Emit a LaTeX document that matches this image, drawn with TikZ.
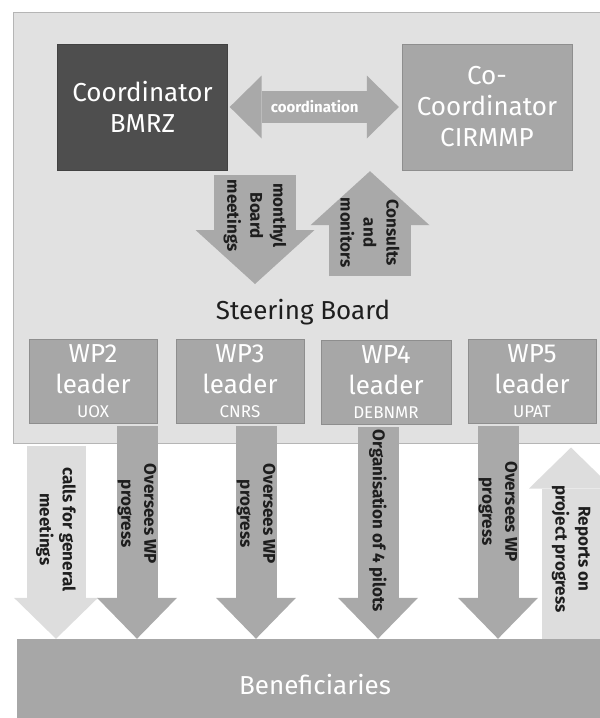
\documentclass[tikz,border=0pt]{standalone}
\usepackage{fontspec}
\setmainfont{Fira Sans}
\usetikzlibrary{arrows.meta}
\definecolor{panelgray}{HTML}{E1E1E1}
\definecolor{paneledge}{HTML}{B5B5B5}
\definecolor{coorddark}{HTML}{4E4E4E}
\definecolor{boxgray}{HTML}{A7A7A7}
\definecolor{arrowgray}{HTML}{A9A9A9}
\definecolor{lightarrow}{HTML}{DDDDDD}
\definecolor{labelblack}{HTML}{1E1E1E}

\begin{document}
\begin{tikzpicture}[x=1pt, y=-1pt,
  panel/.style={draw=paneledge, fill=panelgray, line width=1pt, minimum width=597pt, minimum height=431pt, inner sep=0pt},
  block/.style={fill=#1, draw=#1!85!black, minimum width=170pt, minimum height=126pt, inner sep=0pt,
                text=white, align=center, font=\fontsize{26}{31}\selectfont},
  wpbox/.style={fill=boxgray, draw=boxgray!85!black, minimum width=128pt, minimum height=84pt, inner sep=0pt,
                text=white, align=center, font=\fontsize{26}{31}\selectfont},
  fat/.style args={#1/#2/#3}{draw=arrowgray, line width=#1pt, -{Triangle[length=#2pt, width=#3pt, line width=0pt]}},
  fatboth/.style args={#1/#2/#3}{draw=arrowgray, line width=#1pt,
                {Triangle[length=#2pt, width=#3pt, line width=0pt]}-{Triangle[length=#2pt, width=#3pt, line width=0pt]}},
  lbl/.style={rotate=-90, align=center, text=labelblack, inner sep=0pt, font=\bfseries\fontsize{17}{23}\selectfont},
]
\useasboundingbox (0,0) rectangle (600,718);
\clip (0,0) rectangle (600,718);

\node[panel] (board) at (311.5,227.5) {};
\node[block=coorddark] (coord) at (142.5,107) {Coordinator\\BMRZ};
\node[block=boxgray] (cocoord) at (487,107) {Co-\\Coordinator\\CIRMMP};
\node[text=labelblack, font=\fontsize{26}{31}\selectfont] (steer) at (303,312) {Steering Board};

\node[wpbox] (wp2) at (93,381) {WP2\\leader\\[-7pt]{\fontsize{17}{20}\selectfont UOX}};
\node[wpbox] (wp3) at (240,381) {WP3\\leader\\[-7pt]{\fontsize{17}{20}\selectfont CNRS}};
\node[wpbox, minimum width=130pt] (wp4) at (386,382) {WP4\\leader\\[-7pt]{\fontsize{17}{20}\selectfont DEBNMR}};
\node[wpbox] (wp5) at (532,381) {WP5\\leader\\[-7pt]{\fontsize{17}{20}\selectfont UPAT}};

\node[fill=boxgray, minimum width=596pt, minimum height=91pt, text=white, font=\fontsize{26}{31}\selectfont] (ben) at (315,684.5) {Beneficiaries};

\coordinate (mcol) at (255,0);
\coordinate (ccol) at (370,0);
\coordinate (mtip) at (255,284);
\coordinate (cfoot) at (370,276);
\coordinate (col1) at (56,0);
\coordinate (col2) at (137,0);
\coordinate (col3) at (256,0);
\coordinate (col4) at (378,0);
\coordinate (col5) at (498,0);
\coordinate (col6) at (571,0);

\draw[fatboth=32/32/63, shorten <=2pt, shorten >=3pt] (coord.east) -- node[text=white, font=\bfseries\fontsize{15}{18}\selectfont] {coordination} (cocoord.west);
\draw[fat=82/54/119, shorten <=5pt] (coord.south -| mcol) -- node[lbl, pos=0.4] {monthyl\\Board\\meetings} (mtip);
\draw[fat=82/54/119, shorten >=1pt] (cfoot) -- node[lbl, pos=0.41] {Consults\\and\\monitors} (cocoord.south -| ccol);

\draw[fat=59/41/84, draw=lightarrow, shorten <=2pt] (board.south -| col1) -- node[lbl, pos=0.44] {calls for general\\meetings} (ben.north -| col1);
\draw[fat=41/41/80, shorten <=3pt] (wp2.south -| col2) -- node[lbl, pos=0.42] {Oversees WP\\progress} (ben.north -| col2);
\draw[fat=41/41/80, shorten <=3pt] (wp3.south -| col3) -- node[lbl, pos=0.42] {Oversees WP\\progress} (ben.north -| col3);
\draw[fat=41/41/80, shorten <=3pt] (wp4.south -| col4) -- node[lbl, pos=0.45] {Organisation of 4 pilots} (ben.north -| col4);
\draw[fat=41/41/80, shorten <=3pt] (wp5.south -| col5) -- node[lbl, pos=0.41] {Oversees WP\\progress} (ben.north -| col5);
\draw[fat=58/41/84, draw=lightarrow, shorten >=4pt] (ben.north -| col6) -- node[lbl, pos=0.46] {Reports on\\project progress} (board.south -| col6);
\end{tikzpicture}
\end{document}
